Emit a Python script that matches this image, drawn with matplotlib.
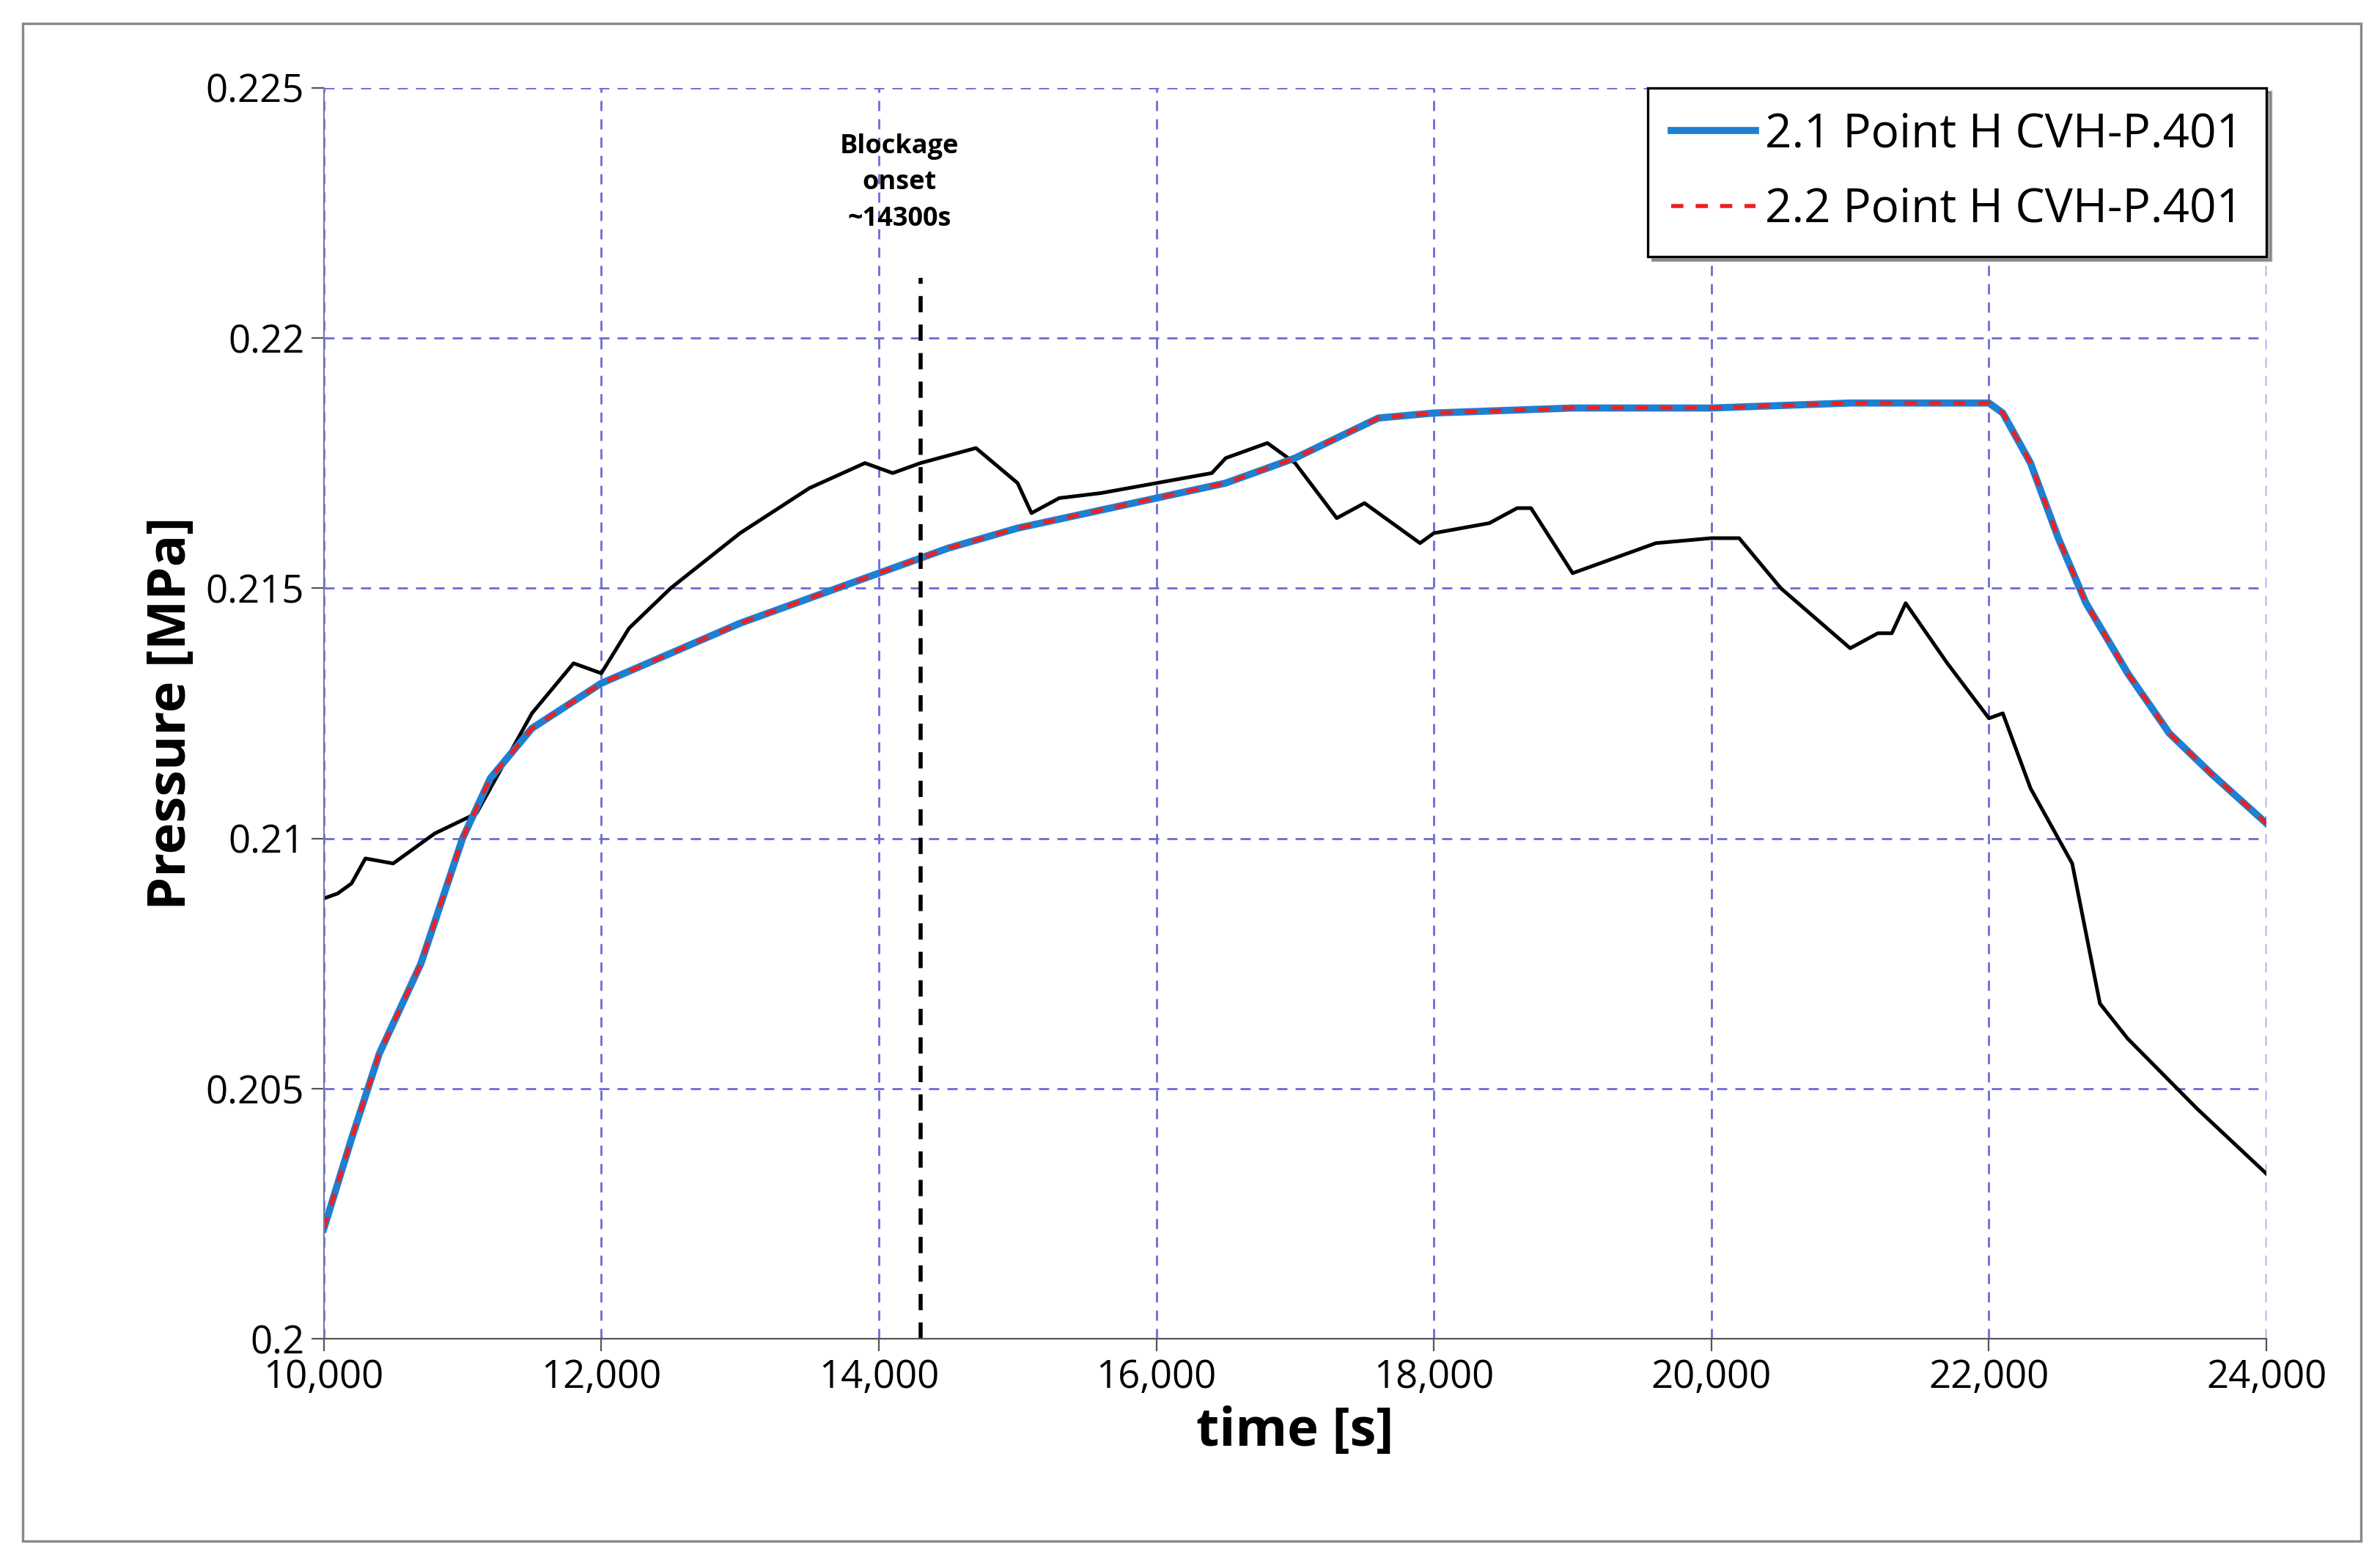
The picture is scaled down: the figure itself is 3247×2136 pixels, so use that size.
import matplotlib
matplotlib.use("Agg")
import matplotlib.pyplot as plt
from matplotlib.patches import Rectangle

exp_t = [10000,10100,10200,10300,10500,10800,11100,11500,11800,12000,12200,12500,13000,13500,13900,14100,14300,14700,15000,15100,15300,15600,16000,16400,16500,16800,17000,17300,17500,17900,18000,18400,18600,18700,19000,19200,19600,20000,20200,20500,21000,21200,21300,21400,21700,22000,22100,22300,22600,22800,23000,23500,24000]
exp_p = [0.2088,0.2089,0.2091,0.2096,0.2095,0.2101,0.2105,0.2125,0.2135,0.2133,0.2142,0.2150,0.2161,0.2170,0.2175,0.2173,0.2175,0.2178,0.2171,0.2165,0.2168,0.2169,0.2171,0.2173,0.2176,0.2179,0.2175,0.2164,0.2167,0.2159,0.2161,0.2163,0.2166,0.2166,0.2153,0.2155,0.2159,0.2160,0.2160,0.2150,0.2138,0.2141,0.2141,0.2147,0.2135,0.2124,0.2125,0.2110,0.2095,0.2067,0.2060,0.2046,0.2033]
sim_t = [10000,10200,10400,10700,11000,11200,11500,12000,12500,13000,13500,14000,14500,15000,15500,16000,16500,17000,17300,17600,18000,19000,20000,21000,22000,22100,22300,22500,22700,23000,23300,23600,24000]
sim_p = [0.2022,0.2040,0.2057,0.2075,0.2100,0.2112,0.2122,0.2131,0.2137,0.2143,0.2148,0.2153,0.2158,0.2162,0.2165,0.2168,0.2171,0.2176,0.2180,0.2184,0.2185,0.2186,0.2186,0.2187,0.2187,0.2185,0.2175,0.2160,0.2147,0.2133,0.2121,0.2113,0.2103]
xticks = [10000,12000,14000,16000,18000,20000,22000,24000]
yticks = [0.2,0.205,0.21,0.215,0.22,0.225]
ytick_labels = ["0.2","0.205","0.21","0.215","0.22","0.225"]
onset = 14300

plt.rcParams['font.family'] = ['Open Sans', 'DejaVu Sans']
fig = plt.figure(figsize=(16.24, 10.68), dpi=200)
fig.patches.append(Rectangle((0.0096, 0.016), 0.982, 0.969, transform=fig.transFigure,
                             fill=False, edgecolor='#888888', lw=1.2))
ax = fig.add_axes([0.136, 0.145, 0.816, 0.799])
gc = '#6a6ad8'
ax.grid(True, color=gc, ls=(0, (5, 4)), lw=1.0)
ax.set_xlim(10000, 24000)
ax.set_ylim(0.2, 0.225)
ax.set_xticks(xticks)
ax.set_xticklabels([f"{v:,}" for v in xticks])
ax.set_yticks(yticks)
ax.set_yticklabels(ytick_labels)
ax.tick_params(labelsize=19, length=6, color='#555555')
for s in ['top', 'right']:
    ax.spines[s].set_visible(False)
ax.spines['left'].set_color('#7777aa')
ax.spines['bottom'].set_color('#555555')

ax.plot(exp_t, exp_p, color='black', lw=1.8)
ax.plot(sim_t, sim_p, color='#1f7fd0', lw=3.5, label='2.1 Point H CVH-P.401')
ax.plot(sim_t, sim_p, color='#ee2020', lw=2, ls=(0, (3, 3)), label='2.2 Point H CVH-P.401')
ax.plot([onset, onset], [0.2, 0.2212], color='black', lw=2, ls=(0, (4, 3)))
ax.text(onset - 150, 0.2231, "Blockage\nonset\n~14300s", ha='center', va='center',
        fontsize=13, fontweight='bold', linespacing=1.5)

ax.set_xlabel("time [s]", fontsize=26, fontweight='bold')
ax.set_ylabel("Pressure [MPa]", fontsize=26, fontweight='bold')
leg = ax.legend(loc='upper right', fontsize=23, fancybox=False, shadow=True,
                framealpha=1, edgecolor='black', handlelength=1.8, handletextpad=0.2,
                borderaxespad=0.0, labelspacing=0.6, borderpad=0.5)
leg.get_frame().set_linewidth(1.2)
fig.savefig("out.png", dpi=200)
